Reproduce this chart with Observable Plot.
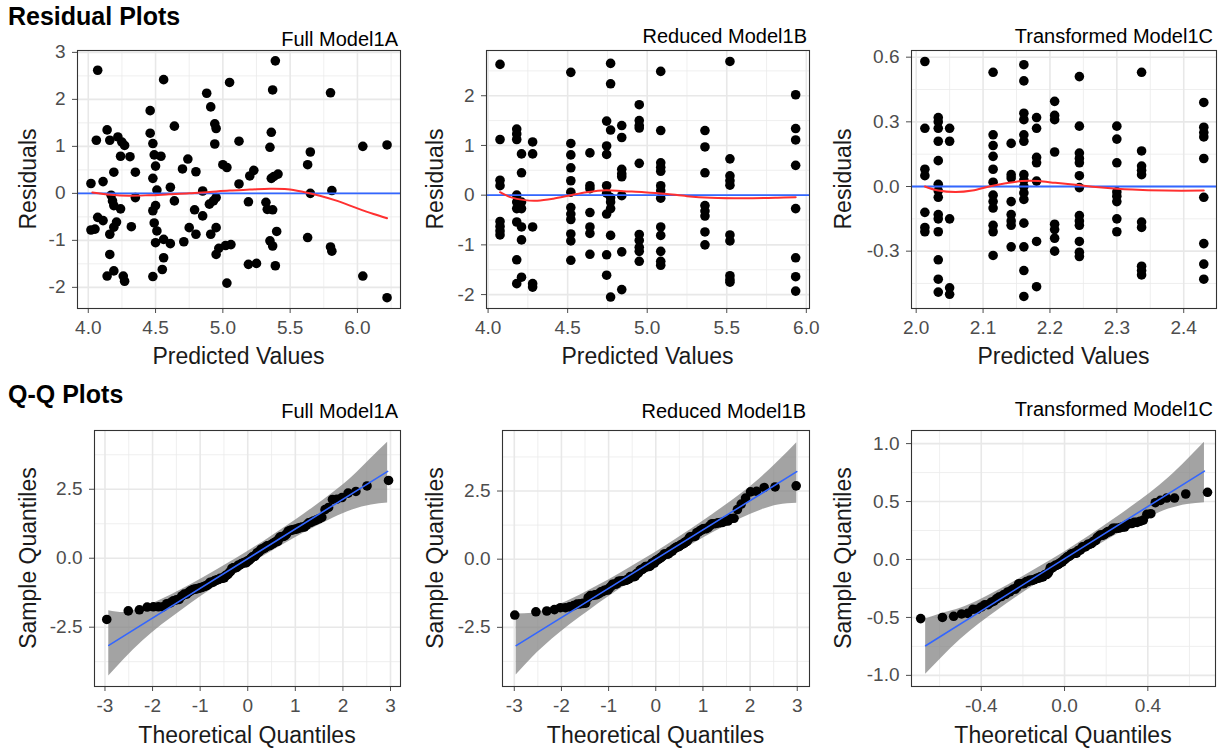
<!DOCTYPE html>
<html><head><meta charset="utf-8">
<script src="https://cdn.jsdelivr.net/npm/d3@7"></script>
<script src="https://cdn.jsdelivr.net/npm/@observablehq/plot@0.6"></script>
<style>
body{margin:0;background:#fff;}
#root{position:relative;width:1223px;height:749px;overflow:hidden;font-family:"Liberation Sans",Arial,sans-serif;background:#fff;}
.t{position:absolute;white-space:nowrap;line-height:1;color:#000;}
.head{font-weight:bold;font-size:25px;}
.ptitle{font-size:20px;}
.axt{font-size:23px;transform:translate(-50%,-50%);color:#1a1a1a;}
.axt.rot{transform:translate(-50%,-50%) rotate(-90deg);}
</style></head><body><div id="root"></div><script>
// ---------- Data: Full Model1A residuals ----------
const predA = [4.07,4.06,4.14,4.02,4.11,4.02,4.05,4.07,4.11,4.14,4.16,4.16,4.19,4.16,4.22,4.25,4.27,4.19,4.17,4.18,4.19,4.24,4.21,4.19,4.24,4.31,4.32,4.35,4.35,4.26,4.27,
  4.46,4.46,4.48,4.49,4.50,4.48,4.51,4.48,4.49,4.51,4.50,4.50,4.54,4.56,4.64,4.61,4.64,4.48,4.55,4.56,4.56,4.61,
  4.71,4.70,4.74,4.80,4.75,4.80,4.79,4.85,4.85,4.88,4.91,4.94,4.95,4.94,4.90,4.93,4.95,4.91,4.95,4.95,4.97,5.02,5.06,5.00,5.03,5.03,5.05,
  5.12,5.12,5.20,5.23,5.19,5.19,5.25,5.32,5.33,5.37,5.35,5.37,5.39,5.40,5.38,5.41,5.36,5.35,5.36,5.37,5.39,
  5.63,5.65,5.65,5.63,5.80,5.81,5.80,5.81,6.04,6.04,6.22,6.22];
const residA = [2.62,1.13,1.35,0.21,0.25,-0.78,-0.76,-0.51,-0.58,-1.76,-1.30,-0.87,-1.65,1.13,1.20,1.09,1.02,0.45,-0.04,-0.16,-0.26,-0.33,-0.61,-0.72,0.79,0.78,-0.71,0.45,-0.09,-1.76,-1.87,
  1.76,1.28,1.06,0.82,0.58,0.32,0.07,-0.37,-0.63,-0.80,-1.05,-0.26,0.79,2.42,1.43,0.13,-0.16,-1.77,-1.62,-1.37,-0.98,-1.07,
  -1.03,0.52,0.73,0.46,-0.73,-0.87,-0.35,-0.48,0.05,2.13,1.84,1.48,1.38,1.05,-0.23,-0.16,-0.09,-0.87,-0.73,-1.30,-1.17,-1.11,-1.09,0.61,0.55,-1.91,2.36,
  1.11,0.20,0.37,0.49,-0.18,-1.51,-1.49,-0.19,-0.34,-0.35,-1.01,-1.12,-1.54,-0.81,0.36,0.41,0.32,0.98,1.30,2.20,2.82,
  0.61,0.88,0.00,-0.94,2.14,0.06,-1.14,-1.23,1.00,-1.76,1.03,-2.22];
const loessAx = [4.03,4.17,4.30,4.45,4.60,4.75,4.90,5.05,5.20,5.35,5.48,5.60,5.72,5.85,6.00,6.12,6.22];
const loessAy = [0.02,-0.03,-0.05,-0.04,-0.02,0.00,0.03,0.06,0.08,0.10,0.09,0.03,-0.05,-0.16,-0.32,-0.44,-0.53];

// ---------- Data: Reduced Model1B residuals (by predicted value) ----------
const predB = [4.075,4.18,4.21,4.28,4.52,4.64,4.745,4.77,4.84,4.95,5.085,5.363,5.52,5.933];
const residB = [
  [2.63,1.12,0.30,0.19,-0.53,-0.63,-0.72,-0.80],
  [1.33,1.23,1.12,0.0,-0.14,-0.27,-0.54,-1.30,-1.78],
  [0.83,0.45,-0.14,-0.27,-0.64,-0.90,-1.65],
  [1.07,0.83,-0.64,-1.78,-1.85],
  [2.47,1.04,0.81,0.55,0.29,0.06,-0.25,-0.38,-0.49,-0.78,-0.92,-1.31],
  [0.85,0.19,0.13,-0.35,-0.64,-0.77,-1.19],
  [1.49,0.99,0.82,0.19,0.04,-0.38,-1.20,-1.61],
  [2.65,2.24,1.31,-0.05,-0.14,-0.27,-0.81,-2.05],
  [1.40,1.16,0.52,0.43,0.37,-0.01,-1.14,-1.90],
  [1.82,1.50,1.40,1.35,0.64,-0.79,-0.91,-1.05,-1.13,-1.33],
  [2.49,1.30,0.65,0.56,0.48,0.19,0.09,-0.06,-0.64,-0.81,-1.13,-1.33,-1.41],
  [1.30,0.97,0.45,-0.21,-0.32,-0.42,-0.74,-1.00],
  [2.69,0.73,0.39,0.29,0.20,-0.80,-0.92,-1.62,-1.70,-1.75],
  [2.02,1.34,1.11,0.60,-0.27,-1.26,-1.64,-1.93]
];
const loessBx = [4.075,4.14,4.23,4.31,4.41,4.52,4.62,4.74,4.85,4.98,5.11,5.25,5.40,5.61,5.82,5.933];
const loessBy = [0.06,-0.04,-0.10,-0.11,-0.07,0.00,0.06,0.10,0.08,0.06,0.03,-0.02,-0.05,-0.06,-0.05,-0.04];

// ---------- Data: Transformed Model1C residuals ----------
const predC = [2.013,2.033,2.05,2.115,2.142,2.161,2.18,2.207,2.244,2.30,2.337,2.43];
const residC = [
  [0.58,0.27,0.08,0.05,-0.12,-0.19,-0.21],
  [0.32,0.30,0.27,0.21,0.12,0.01,-0.02,-0.05,-0.13,-0.15,-0.21,-0.34,-0.43,-0.49],
  [0.27,0.21,-0.15,-0.47,-0.50],
  [0.53,0.24,0.19,0.14,0.08,0.02,-0.04,-0.07,-0.10,-0.18,-0.21,-0.32],
  [0.20,0.055,0.04,-0.07,-0.13,-0.16,-0.18,-0.28],
  [0.565,0.49,0.34,0.31,0.24,0.21,0.055,0.03,0.0,-0.03,-0.06,-0.17,-0.28,-0.39,-0.51],
  [0.32,0.27,0.135,0.11,0.025,-0.255,-0.465],
  [0.395,0.33,0.31,0.16,-0.175,-0.20,-0.24,-0.30],
  [0.51,0.28,0.155,0.13,0.11,0.05,-0.005,-0.135,-0.16,-0.18,-0.255,-0.305,-0.325],
  [0.28,0.22,0.11,-0.025,-0.045,-0.07,-0.15,-0.21],
  [0.53,0.165,0.095,0.075,0.055,-0.165,-0.19,-0.37,-0.39,-0.41],
  [0.39,0.275,0.25,0.23,0.13,-0.05,-0.265,-0.36,-0.43]
];
const loessCx = [2.013,2.033,2.059,2.084,2.109,2.134,2.158,2.183,2.208,2.238,2.273,2.323,2.373,2.43];
const loessCy = [0.0,-0.019,-0.026,-0.019,0.0,0.015,0.025,0.025,0.017,0.008,-0.003,-0.014,-0.019,-0.019];

// ---------- Q-Q reference lines and confidence bands ----------
const qqLineAx = [-2.92,2.94], qqLineAy = [-3.16,3.15];
const qqLineBx = [-2.96,2.99], qqLineBy = [-3.17,3.21];
const qqLineCx = [-0.667,0.672], qqLineCy = [-0.744,0.763];
const bandAx = [-2.92,-2.6,-2.2,-1.8,-1.4,-1.0,-0.5,0,0.5,1.0,1.4,1.8,2.2,2.6,2.94];
const bandAlo = [-4.27,-3.67,-2.99,-2.41,-1.90,-1.41,-0.83,-0.28,0.24,0.74,1.11,1.46,1.75,1.93,2.00];
const bandAhi = [-1.90,-1.97,-1.79,-1.49,-1.14,-0.77,-0.27,0.24,0.80,1.38,1.87,2.38,2.95,3.63,4.20];
const bandBx = [-2.96,-2.6,-2.2,-1.8,-1.4,-1.0,-0.5,0,0.5,1.0,1.4,1.8,2.2,2.6,2.99];
const bandBlo = [-4.25,-3.58,-2.94,-2.38,-1.87,-1.38,-0.80,-0.25,0.27,0.77,1.14,1.48,1.78,1.99,2.05];
const bandBhi = [-2.01,-1.98,-1.78,-1.48,-1.13,-0.76,-0.26,0.25,0.81,1.39,1.88,2.38,2.94,3.59,4.27];
const bandCx = [-0.667,-0.59,-0.5,-0.41,-0.32,-0.23,-0.115,0,0.115,0.23,0.32,0.41,0.5,0.59,0.672];
const bandClo = [-0.99,-0.847,-0.691,-0.557,-0.438,-0.324,-0.185,-0.051,0.073,0.194,0.282,0.365,0.435,0.475,0.49];
const bandChi = [-0.514,-0.467,-0.421,-0.351,-0.268,-0.180,-0.059,0.065,0.199,0.338,0.452,0.571,0.705,0.861,1.012];

// ---------- Tick values ----------
const ticksA = {x:[4,4.5,5,5.5,6], xm:[4.25,4.75,5.25,5.75,6.25], y:[-2,-1,0,1,2,3], ym:[-1.5,-0.5,0.5,1.5,2.5]};
const ticksB = {x:[4,4.5,5,5.5,6], xm:[4.25,4.75,5.25,5.75], y:[-2,-1,0,1,2], ym:[-1.5,-0.5,0.5,1.5,2.5]};
const ticksC = {x:[2.0,2.1,2.2,2.3,2.4], xm:[2.05,2.15,2.25,2.35], y:[-0.3,0,0.3,0.6], ym:[-0.45,-0.15,0.15,0.45]};
const ticksQ = {x:[-3,-2,-1,0,1,2,3], xm:[-2.5,-1.5,-0.5,0.5,1.5,2.5], y:[-2.5,0,2.5], ym:[-3.75,-1.25,1.25,3.75]};
const ticksQC = {x:[-0.4,0,0.4], xm:[-0.6,-0.2,0.2,0.6], y:[-1,-0.5,0,0.5,1], ym:[-0.75,-0.25,0.25,0.75]};

// ---------- helpers ----------
function qnorm(p){
  const a=[-3.969683028665376e+01,2.209460984245205e+02,-2.759285104469687e+02,1.383577518672690e+02,-3.066479806614716e+01,2.506628277459239e+00];
  const b=[-5.447609879822406e+01,1.615858368580409e+02,-1.556989798598866e+02,6.680131188771972e+01,-1.328068155288572e+01];
  const c=[-7.784894002430293e-03,-3.223964580411365e-01,-2.400758277161838e+00,-2.549732539343734e+00,4.374664141464968e+00,2.938163982698783e+00];
  const d=[7.784695709041462e-03,3.224671290700398e-01,2.445134137142996e+00,3.754408661907416e+00];
  const pl=0.02425;
  if(p<pl){const q=Math.sqrt(-2*Math.log(p));return (((((c[0]*q+c[1])*q+c[2])*q+c[3])*q+c[4])*q+c[5])/((((d[0]*q+d[1])*q+d[2])*q+d[3])*q+1);}
  if(p>1-pl){const q=Math.sqrt(-2*Math.log(1-p));return -(((((c[0]*q+c[1])*q+c[2])*q+c[3])*q+c[4])*q+c[5])/((((d[0]*q+d[1])*q+d[2])*q+d[3])*q+1);}
  const q=p-0.5, r=q*q;
  return (((((a[0]*r+a[1])*r+a[2])*r+a[3])*r+a[4])*r+a[5])*q/(((((b[0]*r+b[1])*r+b[2])*r+b[3])*r+b[4])*r+1);
}
function qqPoints(res){
  const s = res.slice().sort(d3.ascending), n = s.length, m = d3.mean(s), sd = d3.deviation(s);
  return s.map((y,i)=>({x: m + sd*qnorm((i+0.5)/n), y}));
}
const zip = (xs, ys) => xs.map((x,i)=>({x, y: ys[i]}));
const ptsA = zip(predA, residA);
const ptsB = predB.flatMap((x,i)=>residB[i].map(y=>({x,y})));
const ptsC = predC.flatMap((x,i)=>residC[i].map(y=>({x,y})));
const flatB = residB.flat(), flatC = residC.flat();

const root = document.getElementById("root");
const FONT = '"Liberation Sans", Arial, sans-serif';
const fmt1 = d => d.toFixed(1), fmt0 = d => String(d);

function panel(cfg){
  const mL=50, mR=10, mT=6, mB=44;
  const w = cfg.R - cfg.L + mL + mR, h = cfg.B - cfg.T + mT + mB;
  const inX = v => v >= cfg.xDomain[0] && v <= cfg.xDomain[1];
  const inY = v => v >= cfg.yDomain[0] && v <= cfg.yDomain[1];
  const t = cfg.ticks;
  const svg = Plot.plot({
    width: w, height: h, marginLeft: mL, marginRight: mR, marginTop: mT, marginBottom: mB,
    style: {fontFamily: FONT, fontSize: "19px", color: "#4d4d4d", background: "transparent", overflow: "visible"},
    x: {domain: cfg.xDomain, ticks: t.x, tickFormat: cfg.xFmt, tickSize: 5, tickPadding: 7, label: null},
    y: {domain: cfg.yDomain, ticks: t.y, tickFormat: cfg.yFmt, tickSize: 5, tickPadding: 7, label: null},
    marks: [
      Plot.ruleX(t.xm.filter(inX), {stroke: "#ebebeb", strokeWidth: 0.8}),
      Plot.ruleY(t.ym.filter(inY), {stroke: "#ebebeb", strokeWidth: 0.8}),
      Plot.ruleX(t.x.filter(inX), {stroke: "#e8e8e8", strokeWidth: 1.6}),
      Plot.ruleY(t.y.filter(inY), {stroke: "#e8e8e8", strokeWidth: 1.6}),
      ...cfg.marks,
      Plot.frame({stroke: "#333333", strokeWidth: 1.1})
    ]
  });
  svg.style.position = "absolute";
  svg.style.left = (cfg.L - mL) + "px";
  svg.style.top = (cfg.T - mT) + "px";
  root.appendChild(svg);
}

function residMarks(pts, lx, ly){
  return [
    Plot.dot(pts, {x: "x", y: "y", r: 4.8, fill: "black"}),
    Plot.ruleY([0], {stroke: "#3366FF", strokeWidth: 1.8}),
    Plot.line(zip(lx, ly), {x: "x", y: "y", stroke: "#ff3030", strokeWidth: 2, curve: "catmull-rom"})
  ];
}
function qqMarks(res, bx, blo, bhi, lx, ly){
  return [
    Plot.areaY(bx.map((x,i)=>({x, lo: blo[i], hi: bhi[i]})), {x: "x", y1: "lo", y2: "hi", fill: "#7f7f7f", fillOpacity: 0.72, curve: "monotone-x"}),
    Plot.dot(qqPoints(res), {x: "x", y: "y", r: 4.8, fill: "black"}),
    Plot.line(zip(lx, ly), {x: "x", y: "y", stroke: "#3366FF", strokeWidth: 1.6})
  ];
}

panel({L:77, R:400, T:50, B:308, xDomain:[3.92,6.32], yDomain:[-2.45,3.04], ticks:ticksA, xFmt:fmt1, yFmt:fmt0, marks: residMarks(ptsA, loessAx, loessAy)});
panel({L:486, R:809, T:50, B:308, xDomain:[3.99,6.02], yDomain:[-2.28,2.91], ticks:ticksB, xFmt:fmt1, yFmt:fmt0, marks: residMarks(ptsB, loessBx, loessBy)});
panel({L:911, R:1216, T:50, B:308, xDomain:[1.993,2.449], yDomain:[-0.566,0.631], ticks:ticksC, xFmt:fmt1, yFmt:fmt1, marks: residMarks(ptsC, loessCx, loessCy)});
panel({L:94, R:400, T:430, B:686, xDomain:[-3.22,3.21], yDomain:[-4.65,4.63], ticks:ticksQ, xFmt:fmt0, yFmt:fmt1, marks: qqMarks(residA, bandAx, bandAlo, bandAhi, qqLineAx, qqLineAy)});
panel({L:502, R:809, T:430, B:686, xDomain:[-3.25,3.26], yDomain:[-4.67,4.72], ticks:ticksQ, xFmt:fmt0, yFmt:fmt1, marks: qqMarks(flatB, bandBx, bandBlo, bandBhi, qqLineBx, qqLineBy)});
panel({L:911, R:1215, T:430, B:686, xDomain:[-0.735,0.725], yDomain:[-1.096,1.113], ticks:ticksQC, xFmt:fmt1, yFmt:fmt1, marks: qqMarks(flatC, bandCx, bandClo, bandChi, qqLineCx, qqLineCy)});

// ---------- texts ----------
function txt(s, cls, css){
  const d = document.createElement("div");
  d.className = "t " + cls; d.textContent = s;
  Object.assign(d.style, css);
  root.appendChild(d);
}
txt("Residual Plots", "head", {left: "8px", top: "4px"});
txt("Q-Q Plots", "head", {left: "8px", top: "382px"});
txt("Full Model1A", "ptitle", {right: (1223-398)+"px", top: "29px"});
txt("Reduced Model1B", "ptitle", {right: (1223-807)+"px", top: "26px"});
txt("Transformed Model1C", "ptitle", {right: (1223-1213)+"px", top: "26px"});
txt("Full Model1A", "ptitle", {right: (1223-398)+"px", top: "401px"});
txt("Reduced Model1B", "ptitle", {right: (1223-806)+"px", top: "401px"});
txt("Transformed Model1C", "ptitle", {right: (1223-1213)+"px", top: "399px"});
[[238.5,"Predicted Values"],[647.5,"Predicted Values"],[1063.5,"Predicted Values"]].forEach(([x,s])=>txt(s,"axt",{left:x+"px",top:"356px"}));
[[247,"Theoretical Quantiles"],[655.5,"Theoretical Quantiles"],[1063,"Theoretical Quantiles"]].forEach(([x,s])=>txt(s,"axt",{left:x+"px",top:"735px"}));
[[28,"Residuals"],[435,"Residuals"],[843,"Residuals"]].forEach(([x,s])=>txt(s,"axt rot",{left:x+"px",top:"179px"}));
[[28,"Sample Quantiles"],[435,"Sample Quantiles"],[843,"Sample Quantiles"]].forEach(([x,s])=>txt(s,"axt rot",{left:x+"px",top:"558px"}));
</script></body></html>
